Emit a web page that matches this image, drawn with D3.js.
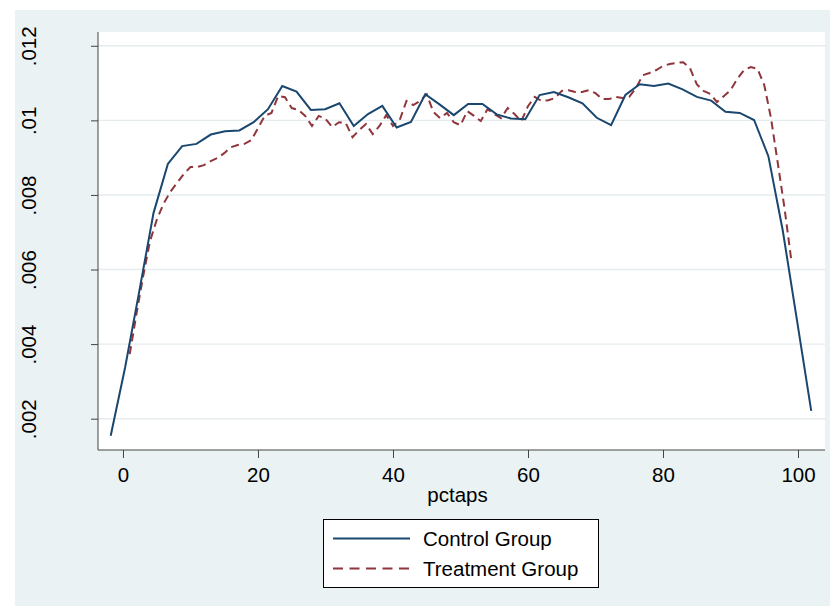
<!DOCTYPE html>
<html>
<head>
<meta charset="utf-8">
<script src="https://cdn.jsdelivr.net/npm/d3@7"></script>
<style>
  html, body { margin: 0; padding: 0; background: #ffffff; }
  svg text { font-family: "Liberation Sans", Arial, Helvetica, sans-serif; fill: #000; }
</style>
</head>
<body>
<svg id="chart" width="834" height="607"></svg>
<script>
// ---- data ----
const controlX = [-1.82, 0.30, 2.42, 4.53, 6.65, 8.77, 10.89, 13.01, 15.12, 17.24,
  19.36, 21.48, 23.60, 25.71, 27.83, 29.95, 32.07, 34.19, 36.30, 38.42,
  40.54, 42.66, 44.78, 46.89, 49.01, 51.13, 53.25, 55.37, 57.48, 59.60,
  61.72, 63.84, 65.96, 68.07, 70.19, 72.31, 74.43, 76.55, 78.66, 80.78,
  82.90, 85.02, 87.14, 89.25, 91.37, 93.49, 95.61, 97.73, 99.84, 101.96];
const controlY = [0.00154, 0.00336, 0.00542, 0.00752, 0.00883, 0.00931, 0.00937, 0.00962, 0.00971, 0.00973,
  0.00995, 0.01030, 0.01092, 0.01077, 0.01028, 0.01030, 0.01046, 0.00985, 0.01017, 0.01039,
  0.00981, 0.00996, 0.01070, 0.01043, 0.01014, 0.01044, 0.01044, 0.01016, 0.01005, 0.01003,
  0.01068, 0.01076, 0.01062, 0.01046, 0.01007, 0.00987, 0.01068, 0.01097, 0.01092, 0.01099,
  0.01083, 0.01063, 0.01053, 0.01023, 0.01020, 0.01001, 0.00904, 0.00706, 0.00465, 0.00221];

const treatX = [1, 2, 3, 4, 5, 6, 7, 8, 9, 10, 11, 12, 13, 14, 15, 16, 17, 18, 19, 20,
  21, 22, 23, 24, 25, 26, 27, 28, 29, 30, 31, 32, 33, 34, 35, 36, 37, 38, 39, 40,
  41, 42, 43, 44, 45, 46, 47, 48, 49, 50, 51, 52, 53, 54, 55, 56, 57, 58, 59, 60,
  61, 62, 63, 64, 65, 66, 67, 68, 69, 70, 71, 72, 73, 74, 75, 76, 77, 78, 79, 80,
  81, 82, 83, 84, 85, 86, 87, 88, 89, 90, 91, 92, 93, 94, 95, 96, 97, 98, 99];
const treatY = [0.00373, 0.00481, 0.00583, 0.00676, 0.00733, 0.00776, 0.00808, 0.00832, 0.00856, 0.00875,
  0.00875, 0.00880, 0.00891, 0.00899, 0.00912, 0.00928, 0.00934, 0.00937, 0.00947, 0.00979,
  0.01012, 0.01020, 0.01066, 0.01062, 0.01033, 0.01028, 0.01012, 0.00985, 0.01012, 0.01004,
  0.00982, 0.00995, 0.00993, 0.00955, 0.00974, 0.00990, 0.00963, 0.00985, 0.01014, 0.00985,
  0.01001, 0.01052, 0.01041, 0.01052, 0.01070, 0.01022, 0.01006, 0.01020, 0.00995, 0.00987,
  0.01025, 0.01012, 0.00998, 0.01030, 0.01017, 0.01006, 0.01033, 0.01017, 0.00998, 0.01038,
  0.01063, 0.01052, 0.01054, 0.01060, 0.01079, 0.01081, 0.01076, 0.01076, 0.01081, 0.01073,
  0.01057, 0.01057, 0.01063, 0.01060, 0.01063, 0.01087, 0.01121, 0.01127, 0.01135, 0.01146,
  0.01151, 0.01154, 0.01156, 0.01140, 0.01097, 0.01079, 0.01071, 0.01049, 0.01065, 0.01081,
  0.01111, 0.01135, 0.01143, 0.01138, 0.01095, 0.01006, 0.00886, 0.00765, 0.00626];

const xTicks = [0, 20, 40, 60, 80, 100];
const yTicks = [0.002, 0.004, 0.006, 0.008, 0.010, 0.012];
const yTickLabels = [".002", ".004", ".006", ".008", ".01", ".012"];
const seriesNames = ["Control Group", "Treatment Group"];
const xTitle = "pctaps";

// ---- layout ----
const svg = d3.select("#chart");
const bg = "#eaf2f3";
const plot = { left: 98, right: 825, top: 32, bottom: 450 };
const ctrlColor = "#1a476f", trtColor = "#90353b";

svg.append("rect").attr("x", 15).attr("y", 10).attr("width", 815).attr("height", 596).attr("fill", bg);
svg.append("rect").attr("x", plot.left).attr("y", plot.top)
  .attr("width", plot.right - plot.left).attr("height", plot.bottom - plot.top).attr("fill", "#fff");

const x = d3.scaleLinear().domain([-3.7, 104]).range([plot.left, plot.right]);
const y = d3.scaleLinear().domain([0.00116, 0.01237]).range([plot.bottom, plot.top]);

// grid
svg.append("g").selectAll("line").data(yTicks).join("line")
  .attr("x1", plot.left).attr("x2", plot.right)
  .attr("y1", d => y(d)).attr("y2", d => y(d))
  .attr("stroke", "#e4ecee").attr("stroke-width", 1.4);

// axes
const yAxis = d3.axisLeft(y).tickValues(yTicks).tickSize(7).tickFormat((d, i) => yTickLabels[i]);
const gy = svg.append("g").attr("transform", `translate(${plot.left},0)`).call(yAxis);
gy.select(".domain").attr("stroke", "#444").attr("d", `M0,${plot.top}V${plot.bottom}`);
gy.selectAll(".tick line").attr("stroke", "#444");
gy.selectAll(".tick text")
  .attr("font-size", 20.5)
  .attr("x", 0).attr("y", 0).attr("dy", 0)
  .attr("text-anchor", "middle")
  .attr("transform", "translate(-62,0) rotate(-90)");

const xAxis = d3.axisBottom(x).tickValues(xTicks).tickSize(8).tickFormat(d3.format("d"));
const gx = svg.append("g").attr("transform", `translate(0,${plot.bottom})`).call(xAxis);
gx.select(".domain").attr("stroke", "#444").attr("d", `M${plot.left},0H${plot.right}`);
gx.selectAll(".tick line").attr("stroke", "#444");
gx.selectAll(".tick text").attr("font-size", 20.5).attr("y", 32).attr("dy", 0);

svg.append("text").attr("x", (plot.left + plot.right) / 2 - 4).attr("y", 502)
  .attr("text-anchor", "middle").attr("font-size", 20.5).text(xTitle);

// lines
const line = d3.line().x(d => x(d[0])).y(d => y(d[1]));
const ctrlData = controlX.map((v, i) => [v, controlY[i]]);
const trtData = treatX.map((v, i) => [v, treatY[i]]);

svg.append("path").datum(trtData).attr("d", line)
  .attr("fill", "none").attr("stroke", trtColor).attr("stroke-width", 2)
  .attr("stroke-dasharray", "8,5");
svg.append("path").datum(ctrlData).attr("d", line)
  .attr("fill", "none").attr("stroke", ctrlColor).attr("stroke-width", 2);

// legend
const lg = svg.append("g");
lg.append("rect").attr("x", 323.5).attr("y", 519.5).attr("width", 275).attr("height", 68)
  .attr("fill", "#fff").attr("stroke", "#000").attr("stroke-width", 1);
const legendItems = [
  { name: seriesNames[0], color: ctrlColor, dash: null, yy: 538.5 },
  { name: seriesNames[1], color: trtColor, dash: "10,6.5", yy: 568.5 }
];
legendItems.forEach(it => {
  const l = lg.append("line").attr("x1", 333).attr("x2", 410).attr("y1", it.yy).attr("y2", it.yy)
    .attr("stroke", it.color).attr("stroke-width", 2);
  if (it.dash) l.attr("stroke-dasharray", it.dash);
  lg.append("text").attr("x", 423).attr("y", it.yy + 7.5).attr("font-size", 20.5).text(it.name);
});
</script>
</body>
</html>
